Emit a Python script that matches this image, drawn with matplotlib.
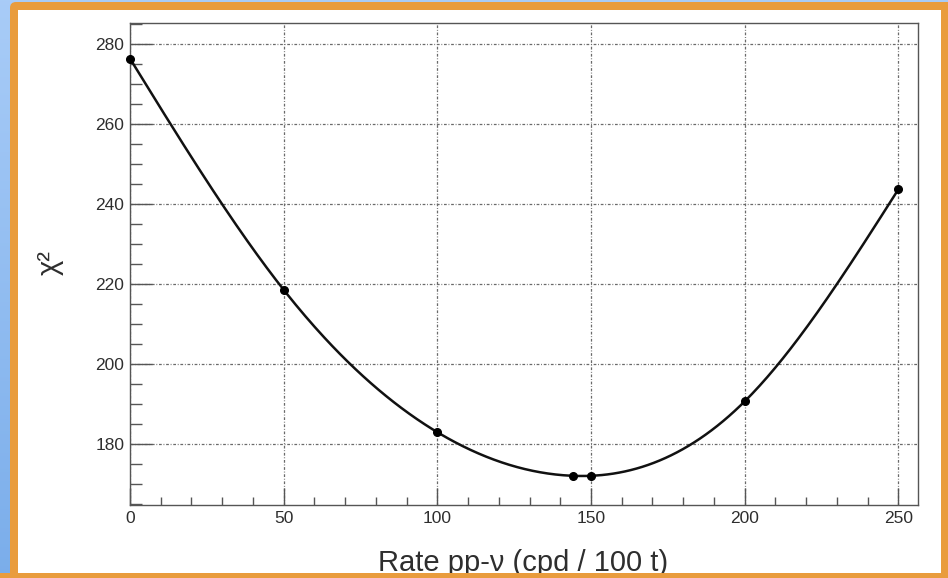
import numpy as np
import matplotlib
matplotlib.use("Agg")
import matplotlib.pyplot as plt
from matplotlib.patches import FancyBboxPatch, Rectangle
from matplotlib.ticker import MultipleLocator

plt.rcParams["font.family"] = ["Liberation Sans", "DejaVu Sans"]

# ── data ──────────────────────────────────────────────────────
rate = [0, 50, 100, 144, 150, 200, 250]
chi2 = [276.4, 218.6, 183.0, 172.1, 172.1, 190.7, 243.7]

X_LABEL = "Rate pp-\u03bd (cpd / 100 t)"
Y_LABEL = "\u03c7\u00b2"

W, H = 948, 578


def natural_spline(x, y, n=400):
    """Smooth curve through the points, like ROOT's "C" draw option."""
    x = np.asarray(x, float)
    y = np.asarray(y, float)
    h = np.diff(x)
    k = len(x)
    A = np.zeros((k, k))
    b = np.zeros(k)
    A[0, 0] = A[-1, -1] = 1.0
    for i in range(1, k - 1):
        A[i, i - 1] = h[i - 1]
        A[i, i] = 2 * (h[i - 1] + h[i])
        A[i, i + 1] = h[i]
        b[i] = 6 * ((y[i + 1] - y[i]) / h[i] - (y[i] - y[i - 1]) / h[i - 1])
    M = np.linalg.solve(A, b)
    xs = np.linspace(x[0], x[-1], n)
    j = np.clip(np.searchsorted(x, xs) - 1, 0, k - 2)
    t0 = x[j + 1] - xs
    t1 = xs - x[j]
    hj = h[j]
    ys = (M[j] * t0**3 + M[j + 1] * t1**3) / (6 * hj) \
        + (y[j] / hj - M[j] * hj / 6) * t0 \
        + (y[j + 1] / hj - M[j + 1] * hj / 6) * t1
    return xs, ys


fig = plt.figure(figsize=(W / 100, H / 100), dpi=100)

# ── background: blue gradient, orange frame, white panel ──────
bg = fig.add_axes([0, 0, 1, 1], zorder=-1)
bg.set_axis_off()
grad = np.linspace(0, 1, 256).reshape(-1, 1)
top = np.array([0.66, 0.80, 0.97])
bot = np.array([0.48, 0.68, 0.92])
img = top + grad[..., None] * (bot - top)
bg.imshow(img, extent=[0, W, 0, H], aspect="auto", origin="upper")
bg.add_patch(FancyBboxPatch((10, -20), W, H - 2 + 20,
                            boxstyle="round,pad=0,rounding_size=6",
                            fc="#e99c3d", ec="none"))
bg.add_patch(Rectangle((18, 5), 922.7, H - 10 - 5, fc="white", ec="none"))
bg.set_xlim(0, W)
bg.set_ylim(0, H)

# ── main plot ──────────────────────────────────────────────────
ax = fig.add_axes([130 / W, 1 - 505 / H, 788 / W, 482 / H])
xs, ys = natural_spline(rate, chi2)
ax.plot(xs, ys, color="#111111", lw=1.8, zorder=3)
ax.plot(rate, chi2, "o", color="black", ms=5.5, zorder=4, clip_on=False)

ax.set_xlim(0, 256.4)
ax.set_ylim(164.8, 285.3)
ax.xaxis.set_major_locator(MultipleLocator(50))
ax.xaxis.set_minor_locator(MultipleLocator(10))
ax.yaxis.set_major_locator(MultipleLocator(20))
ax.yaxis.set_minor_locator(MultipleLocator(5))

ax.grid(True, which="major", color="#6a6a6a", lw=0.9,
        linestyle=(0, (2.2, 1.4, 0.7, 1.4)))
ax.set_axisbelow(True)

ax.tick_params(axis="both", which="both", direction="in", colors="#555555",
               labelcolor="#2e2e2e", labelsize=12.5, width=1.0,
               top=False, right=False)
ax.tick_params(axis="y", which="major", length=16, pad=4)
ax.tick_params(axis="y", which="minor", length=8.5)
ax.tick_params(axis="x", which="major", length=12, pad=4)
ax.tick_params(axis="x", which="minor", length=6)
for sp in ax.spines.values():
    sp.set_color("#555555")
    sp.set_linewidth(1.0)

fig.text(523 / W, 1 - 571 / H, X_LABEL, ha="center", va="baseline",
         fontsize=21, color="#2e2e2e")
fig.text(50 / W, 1 - 263 / H, Y_LABEL, ha="center", va="center",
         rotation=90, fontsize=21, color="#2e2e2e")

# orange bottom edge drawn over the label descenders
fig.patches.append(Rectangle((0, 0), 1, 5 / H, transform=fig.transFigure,
                             fc="#e99c3d", ec="none", zorder=5, figure=fig))

fig.savefig("out.png", dpi=100)
